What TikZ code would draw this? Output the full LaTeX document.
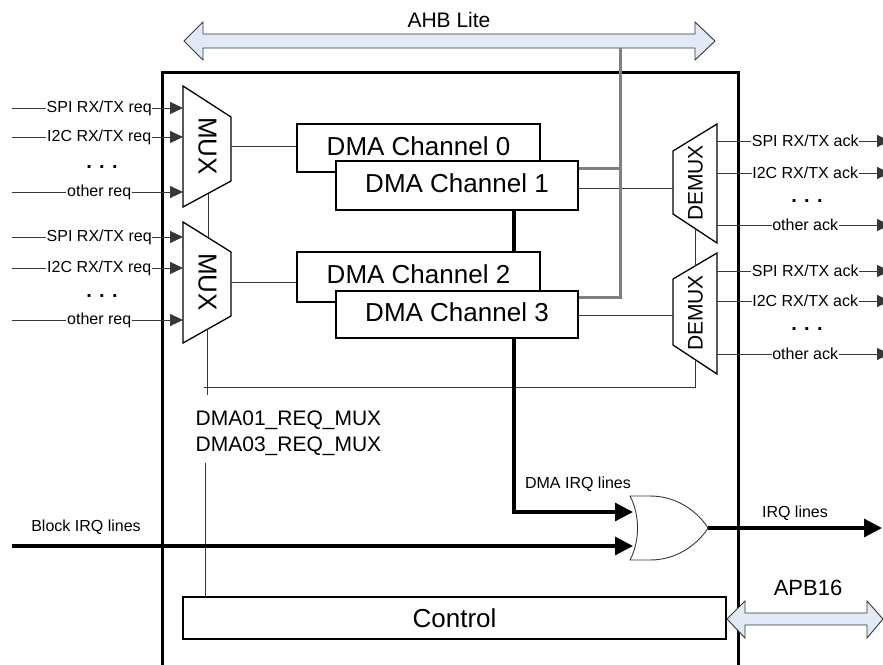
\documentclass[tikz,border=0pt]{standalone}
\usepackage{fontspec}
\setmainfont{Liberation Sans}
\usetikzlibrary{arrows.meta}
\definecolor{busfill}{RGB}{225,234,246}
\definecolor{wire}{RGB}{55,55,55}
\definecolor{graybus}{RGB}{128,128,128}
\begin{document}
\begin{tikzpicture}[x=1pt,y=-1pt,
  wireline/.style={draw=wire,line width=0.9pt},
  box/.style={draw=black,line width=1.3pt,fill=white,inner sep=0pt},
  chan/.style={box,font=\fontsize{26}{30}\selectfont,text depth=4pt},
  sig/.style={wireline,-{Triangle[length=13pt,width=12pt]}},
  lbl/.style={fill=white,inner sep=0.8pt,font=\fontsize{16}{18}\selectfont},
  smalltxt/.style={inner sep=0pt,font=\fontsize{16}{18}\selectfont},
  dotstxt/.style={inner sep=0pt,anchor=base,font=\fontsize{20}{22}\selectfont\bfseries},
  thickarrow/.style={line width=3.2pt,-{Triangle[length=18pt,width=18pt]}},
  muxshape/.style={draw=black,line width=1.3pt,fill=white,line join=miter},
  busarrow/.style={draw=wire,line width=0.9pt,fill=busfill,line join=miter},
  graywire/.style={draw=graybus,line width=3pt}
]
\useasboundingbox (0,0) rectangle (883,664);

% outer block
\node[draw=black,line width=2.5pt,anchor=north west,minimum width=576pt,minimum height=640pt,inner sep=0pt] (outer) at (161,71) {};

% AHB bus
\draw[busarrow] (184,41) -- (203,22) -- (203,34) -- (695,34) -- (695,22) -- (715,41) -- (695,60) -- (695,48) -- (203,48) -- (203,60) -- cycle;
\coordinate (ahbdrop) at (620,48);
\node[inner sep=0pt,anchor=base,font=\fontsize{21}{24}\selectfont] (ahblbl) at (449,27) {AHB Lite};

% APB bus
\draw[busarrow] (727,619) -- (745,601) -- (745,613) -- (867,613) -- (867,601) -- (883,619) -- (867,638) -- (867,625) -- (745,625) -- (745,638) -- cycle;
\node[inner sep=0pt,anchor=base,font=\fontsize{22}{24}\selectfont] (apblbl) at (808,595) {APB16};

% MUXes
\draw[muxshape] (183,86) -- (231,117) -- (231,181) -- (183,207) -- cycle;
\node[rotate=-90,inner sep=0pt,font=\fontsize{26}{30}\selectfont] (mux1) at (207.5,146) {MUX};
\draw[muxshape] (183,222) -- (231,252) -- (231,316) -- (183,343) -- cycle;
\node[rotate=-90,inner sep=0pt,font=\fontsize{26}{30}\selectfont] (mux2) at (207.5,282) {MUX};
\coordinate (m1l) at (183,146);
\coordinate (m2l) at (183,282);
\coordinate (m1o) at (231,146);
\coordinate (m2o) at (231,282);
\coordinate (m1b) at (208,193.5);
\coordinate (m2t) at (208,237);
\coordinate (m2b) at (207,329);

% DEMUXes
\draw[muxshape] (717,124) -- (673,151) -- (673,214) -- (717,243) -- cycle;
\node[rotate=90,inner sep=0pt,font=\fontsize{21}{24}\selectfont] (demux1) at (695.5,183) {DEMUX};
\draw[muxshape] (717,253) -- (673,279) -- (673,345) -- (717,374) -- cycle;
\node[rotate=90,inner sep=0pt,font=\fontsize{21}{24}\selectfont] (demux2) at (695.5,313) {DEMUX};
\coordinate (d1i) at (673,188);
\coordinate (d2i) at (673,315);
\coordinate (d1r) at (717,183);
\coordinate (d2r) at (717,313);
\coordinate (d1b) at (695,228.5);
\coordinate (d2t) at (695,266);
\coordinate (d2b) at (695,359.5);

% DMA channels
\node[chan,minimum width=243pt,minimum height=48pt] (ch0) at (418.5,148) {DMA Channel 0};
\node[chan,minimum width=242pt,minimum height=49pt] (ch1) at (457,185.5) {DMA Channel 1};
\node[chan,minimum width=243pt,minimum height=50pt,text depth=6pt] (ch2) at (418.5,277) {DMA Channel 2};
\node[chan,minimum width=242pt,minimum height=47pt,text depth=5pt] (ch3) at (457,314.5) {DMA Channel 3};

% control
\node[box,minimum width=543pt,minimum height=42pt,font=\fontsize{26}{30}\selectfont] (ctrl) at (454.5,618) {Control};

% MUX -> channels
\draw[wireline] (m1o) -- (m1o -| ch0.west);
\draw[wireline] (m2o) -- (m2o -| ch2.west);
% channels -> DEMUX
\draw[wireline] (d1i -| ch1.east) -- (d1i);
\draw[wireline] (d2i -| ch3.east) -- (d2i);

% mux select wiring
\coordinate (selL) at (204,387);
\coordinate (selLb) at (207,395);
\draw[wireline] (m1b) -- (m2t);
\draw[wireline] (m2b) -- (selLb);
\draw[wireline] (selL) -- (selL -| d2b) -- (d2b);
\draw[wireline] (d1b) -- (d2t);
\coordinate (ctrlup) at (205,463);
\draw[wireline] (ctrlup) -- (ctrlup |- ctrl.north);
\node[inner sep=0pt,anchor=base west,font=\fontsize{21}{24}\selectfont] (reg1) at (195.5,425) {DMA01\_REQ\_MUX};
\node[inner sep=0pt,anchor=base west,font=\fontsize{21}{24}\selectfont] (reg2) at (195.5,451) {DMA03\_REQ\_MUX};

% gray AHB wiring
\coordinate (g1) at (620,168);
\coordinate (g3) at (620,297);
\draw[graywire] (g1 -| ch1.east) -- (g1);
\draw[graywire] (g3 -| ch3.east) -- (g3) -- (ahbdrop);

% request inputs
\coordinate (r1) at (12,108);
\coordinate (r2) at (12,137);
\coordinate (r3) at (12,192);
\coordinate (r4) at (12,237);
\coordinate (r5) at (12,268);
\coordinate (r6) at (12,320);
\draw[sig] (r1) -- (r1 -| m1l) node[lbl,pos=0.51] (t1) {SPI RX/TX req};
\draw[sig] (r2) -- (r2 -| m1l) node[lbl,pos=0.51] (t2) {I2C RX/TX req};
\draw[sig] (r3) -- (r3 -| m1l) node[lbl,pos=0.51] (t3) {other req};
\draw[sig] (r4) -- (r4 -| m2l) node[lbl,pos=0.51] (t4) {SPI RX/TX req};
\draw[sig] (r5) -- (r5 -| m2l) node[lbl,pos=0.51] (t5) {I2C RX/TX req};
\draw[sig] (r6) -- (r6 -| m2l) node[lbl,pos=0.51] (t6) {other req};
\node[dotstxt] (dots1) at (102,168.5) {. . .};
\node[dotstxt] (dots2) at (102,297) {. . .};

% ack outputs
\coordinate (a1) at (890,141);
\coordinate (a2) at (890,173);
\coordinate (a3) at (890,225);
\coordinate (a4) at (890,271);
\coordinate (a5) at (890,301);
\coordinate (a6) at (890,354);
\draw[sig] (a1 -| d1r) -- (a1) node[lbl,pos=0.51] (u1) {SPI RX/TX ack};
\draw[sig] (a2 -| d1r) -- (a2) node[lbl,pos=0.51] (u2) {I2C RX/TX ack};
\draw[sig] (a3 -| d1r) -- (a3) node[lbl,pos=0.51] (u3) {other ack};
\draw[sig] (a4 -| d2r) -- (a4) node[lbl,pos=0.51] (u4) {SPI RX/TX ack};
\draw[sig] (a5 -| d2r) -- (a5) node[lbl,pos=0.51] (u5) {I2C RX/TX ack};
\draw[sig] (a6 -| d2r) -- (a6) node[lbl,pos=0.51] (u6) {other ack};
\node[dotstxt] (dots3) at (807,202) {. . .};
\node[dotstxt] (dots4) at (807,330) {. . .};

% channel IRQ wiring
\draw[line width=3.2pt] (ch1.south -| 514,0) -- (ch2.north -| 514,0);

% OR gate
\draw[draw=wire,line width=0.9pt,fill=white] (630,496) -- (650,496) .. controls (680,496) and (700,515) .. (708,528) .. controls (700,541) and (680,560) .. (650,560) -- (630,560) .. controls (640,541) and (640,515) .. (630,496) -- cycle;
\coordinate (orin1) at (633,512);
\coordinate (orin2) at (633,546);
\coordinate (orout) at (708,528);
\coordinate (irqend) at (882,528);
\coordinate (blockstart) at (12,546);

\draw[thickarrow] (ch3.south -| 514,0) |- (orin1);
\draw[thickarrow] (blockstart) -- (orin2);
\draw[thickarrow] (orout) -- (irqend);

\node[smalltxt,anchor=base] (dmairq) at (578,488) {DMA IRQ lines};
\node[smalltxt,anchor=base] (blockirq) at (86,531) {Block IRQ lines};
\node[smalltxt,anchor=base] (irqlbl) at (795,517) {IRQ lines};
\end{tikzpicture}
\end{document}
